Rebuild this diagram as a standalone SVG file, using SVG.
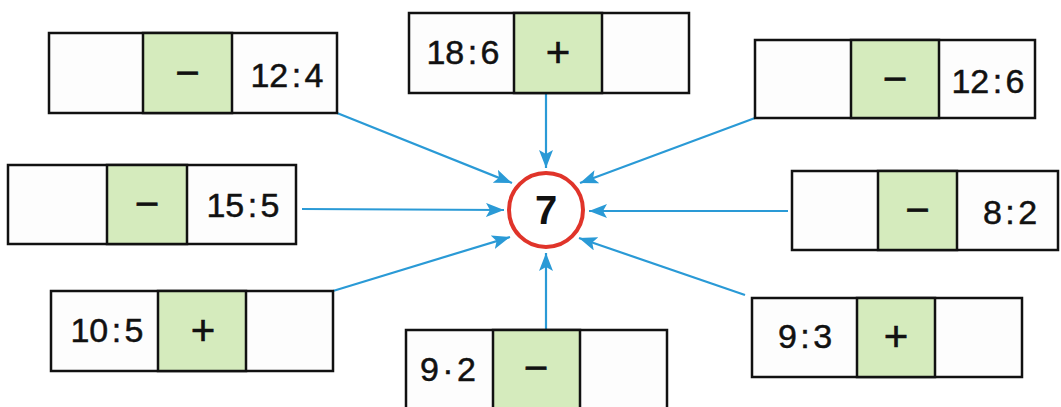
<svg xmlns="http://www.w3.org/2000/svg" width="1061" height="407" viewBox="0 0 1061 407">
<style>
.box{fill:#fdfdfd;stroke:#111;stroke-width:2.5}
.op{fill:#d5ebbd;stroke:#111;stroke-width:2.5}
.num{font-family:"Liberation Sans",Arial,sans-serif;font-size:34px;fill:#111;stroke:#111;stroke-width:0.5;text-anchor:middle;word-spacing:-6px}
.sign{font-family:"Liberation Sans",Arial,sans-serif;font-size:42px;fill:#111;stroke:#111;stroke-width:0.6;text-anchor:middle}
.conn{stroke:#2a9ad6;stroke-width:2.2;fill:none;marker-end:url(#ah)}
</style>
<defs>
<marker id="ah" markerUnits="userSpaceOnUse" markerWidth="20" markerHeight="14" refX="18" refY="7" orient="auto">
<path d="M0,0 L18,7 L0,14 L4,7 z" fill="#2a9ad6"/>
</marker>
</defs>
<rect width="1061" height="407" fill="#fff"/>
<g id="connectors">
<line class="conn" x1="546" y1="93" x2="546" y2="168"/>
<line class="conn" x1="337" y1="113" x2="512" y2="183"/>
<line class="conn" x1="755" y1="118" x2="580" y2="183"/>
<line class="conn" x1="302" y1="209" x2="504" y2="210"/>
<line class="conn" x1="788" y1="211" x2="589" y2="211"/>
<line class="conn" x1="333" y1="291" x2="510" y2="237"/>
<line class="conn" x1="546" y1="330" x2="546" y2="253"/>
<line class="conn" x1="745" y1="295" x2="579" y2="238"/>
</g>
<g id="center">
<circle cx="546" cy="210" r="37" fill="#fff" stroke="#e0342a" stroke-width="4"/>
<text x="546" y="224" font-family="Liberation Sans,Arial,sans-serif" font-size="40" font-weight="bold" text-anchor="middle" fill="#111">7</text>
</g>
<g id="box1">
<rect class="box" x="49" y="33" width="288" height="80"/>
<rect class="op" x="143" y="33" width="89" height="80"/>
<text class="sign" x="187.5" y="87">−</text>
<text class="num" x="287" y="87">12 : 4</text>
</g>
<g id="box2">
<rect class="box" x="409" y="13" width="280" height="80"/>
<rect class="op" x="514" y="13" width="88" height="80"/>
<text class="num" x="463" y="64">18 : 6</text>
<text class="sign" x="558" y="67">+</text>
</g>
<g id="box3">
<rect class="box" x="755" y="40" width="280" height="78"/>
<rect class="op" x="851" y="40" width="88" height="78"/>
<text class="sign" x="895" y="93">−</text>
<text class="num" x="988" y="93">12 : 6</text>
</g>
<g id="box4">
<rect class="box" x="8" y="165" width="288" height="79"/>
<rect class="op" x="107" y="165" width="80" height="79"/>
<text class="sign" x="147" y="218">−</text>
<text class="num" x="243" y="217">15 : 5</text>
</g>
<g id="box5">
<rect class="box" x="792" y="171" width="266" height="79"/>
<rect class="op" x="878" y="171" width="79" height="79"/>
<text class="sign" x="917.5" y="224">−</text>
<text class="num" x="1010" y="224">8 : 2</text>
</g>
<g id="box6">
<rect class="box" x="51" y="291" width="282" height="80"/>
<rect class="op" x="158" y="291" width="88" height="80"/>
<text class="num" x="107" y="342">10 : 5</text>
<text class="sign" x="203" y="345">+</text>
</g>
<g id="box7">
<rect class="box" x="406" y="330" width="261" height="90"/>
<rect class="op" x="493" y="330" width="87" height="90"/>
<text class="num" x="448" y="381">9 · 2</text>
<text class="sign" x="536" y="382">−</text>
</g>
<g id="box8">
<rect class="box" x="752" y="298" width="270" height="79"/>
<rect class="op" x="857" y="298" width="78" height="79"/>
<text class="num" x="805" y="348">9 : 3</text>
<text class="sign" x="896" y="351">+</text>
</g>
</svg>
